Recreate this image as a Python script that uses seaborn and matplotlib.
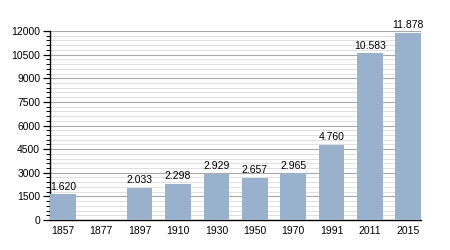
import matplotlib
matplotlib.use("Agg")
import matplotlib.pyplot as plt
from matplotlib.ticker import MultipleLocator
import seaborn as sns
import pandas as pd
import numpy as np

years = ["1857", "1877", "1897", "1910", "1930", "1950", "1970", "1991", "2011", "2015"]
population = [1620, np.nan, 2033, 2298, 2929, 2657, 2965, 4760, 10583, 11878]
y_ticks = [0, 1500, 3000, 4500, 6000, 7500, 9000, 10500, 12000]

sns.set_theme(style="white")
plt.rcParams['font.family'] = ['Liberation Sans', 'DejaVu Sans']

df = pd.DataFrame({"year": years, "pop": population})

fig = plt.figure(figsize=(4.5, 2.5), dpi=100)
ax = fig.add_axes([0.111, 0.12, 0.825, 0.756])

sns.barplot(data=df, x="year", y="pop", order=years, color="#99b1cd",
            saturation=1, width=0.67, ax=ax, zorder=3, linewidth=0, edgecolor="none")

ax.set_ylim(0, 12000)
ax.set_xlim(-0.335, 9.335)
ax.set_yticks(y_ticks)
ax.yaxis.set_minor_locator(MultipleLocator(300))
ax.grid(which="major", axis="y", color="#a8a8a8", linewidth=0.8, zorder=0)
ax.grid(which="minor", axis="y", color="#e0e0e0", linewidth=0.7, zorder=0)
ax.set_axisbelow(True)

for s in ["top", "right"]:
    ax.spines[s].set_visible(False)
for s in ["left", "bottom"]:
    ax.spines[s].set_color("black")
    ax.spines[s].set_linewidth(1.0)

ax.tick_params(axis="y", which="major", left=True, length=5, width=0.9, color="black",
               labelsize=7.5, pad=2, labelcolor="black")
ax.tick_params(axis="y", which="minor", left=True, length=3, width=0.7, color="black")
ax.tick_params(axis="x", length=0, labelsize=7.5, pad=4, labelcolor="black")
ax.set_xlabel("")
ax.set_ylabel("")

for p in ax.patches:
    h = p.get_height()
    if np.isnan(h) or h == 0:
        continue
    ax.annotate(f"{int(h):,}".replace(",", "."), (p.get_x() + p.get_width() / 2, h),
                xytext=(0, 2), textcoords="offset points", ha="center", va="bottom",
                fontsize=7.5, color="black")

fig.savefig("out.png", dpi=100)
